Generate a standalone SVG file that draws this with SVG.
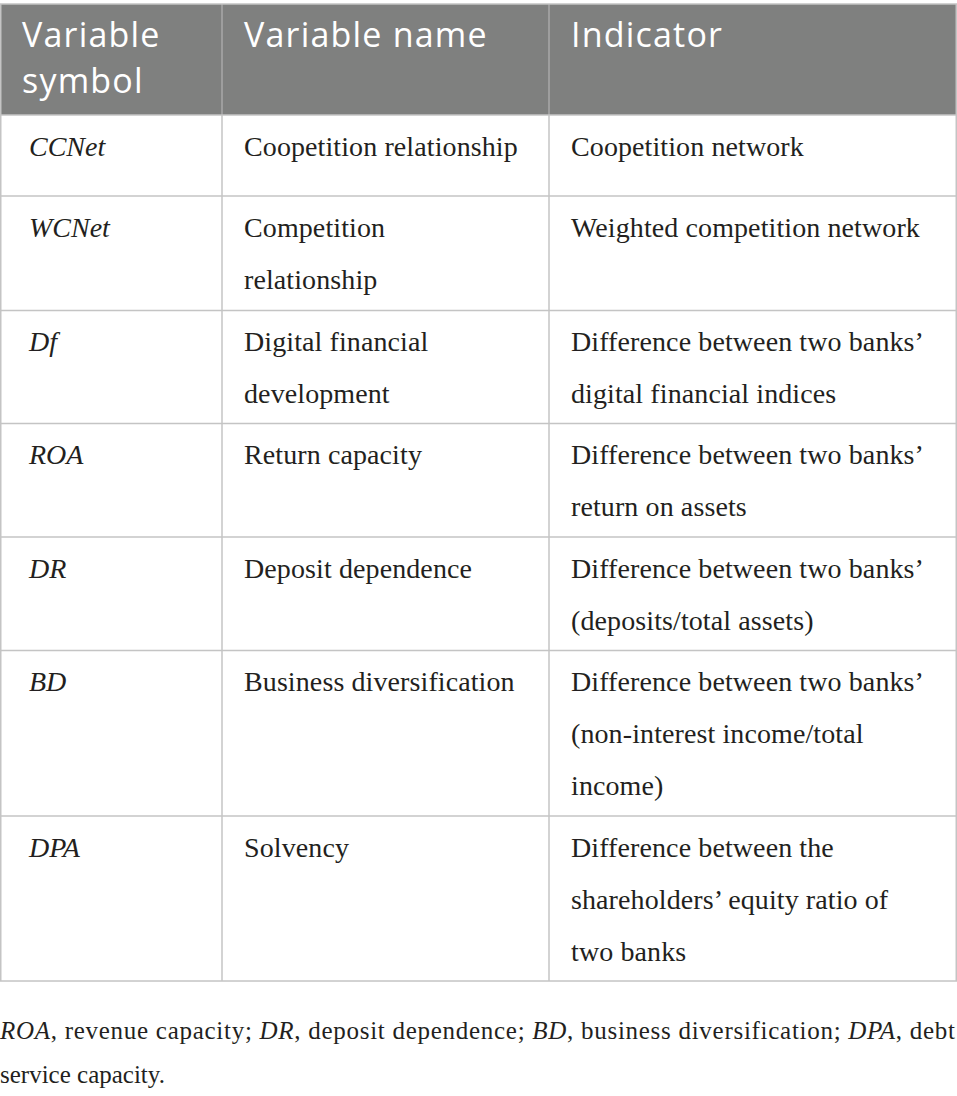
<svg xmlns="http://www.w3.org/2000/svg" width="957" height="1096" viewBox="0 0 957 1096">
<style>
.hd{font-family:"Open Sans","Liberation Sans",sans-serif;font-size:34px;fill:#ffffff;letter-spacing:1.2px}
.b{font-family:"Liberation Serif","Times New Roman",serif;font-size:28px;fill:#231f20;letter-spacing:0.1px}
.s{font-family:"Liberation Serif","Times New Roman",serif;font-size:28px;fill:#231f20;font-style:italic}
.fn{font-family:"Liberation Serif","Times New Roman",serif;font-size:25px;fill:#231f20}
.grid{stroke:#c4c4c4;stroke-width:1.5;fill:none}
.hgrid{stroke:#a9a9a9;stroke-width:1.5}
</style>
<rect x="0" y="0" width="957" height="1096" fill="#ffffff"/>
<g id="header">
<rect x="0.75" y="4" width="955.5" height="111" fill="#7f807f"/>
<line class="hgrid" x1="222" y1="4" x2="222" y2="115"/>
<line class="hgrid" x1="549" y1="4" x2="549" y2="115"/>
<text class="hd" x="22" y="47">Variable</text>
<text class="hd" x="22" y="93">symbol</text>
<text class="hd" x="244" y="47">Variable name</text>
<text class="hd" x="571" y="47">Indicator</text>
</g>
<g id="connectors">
<rect class="grid" x="0.75" y="4" width="955.5" height="977"/>
<line class="grid" x1="222" y1="115" x2="222" y2="981"/>
<line class="grid" x1="549" y1="115" x2="549" y2="981"/>
<line class="grid" x1="0.75" y1="115" x2="956.25" y2="115"/>
<line class="grid" x1="0.75" y1="196" x2="956.25" y2="196"/>
<line class="grid" x1="0.75" y1="310.5" x2="956.25" y2="310.5"/>
<line class="grid" x1="0.75" y1="423.5" x2="956.25" y2="423.5"/>
<line class="grid" x1="0.75" y1="537" x2="956.25" y2="537"/>
<line class="grid" x1="0.75" y1="650.5" x2="956.25" y2="650.5"/>
<line class="grid" x1="0.75" y1="816" x2="956.25" y2="816"/>
</g>
<g id="row-ccnet">
<text class="s" x="29" y="156">CCNet</text>
<text class="b" x="244" y="156">Coopetition relationship</text>
<text class="b" x="571" y="156">Coopetition network</text>
</g>
<g id="row-wcnet">
<text class="s" x="29" y="237">WCNet</text>
<text class="b" x="244" y="237">Competition</text>
<text class="b" x="244" y="289">relationship</text>
<text class="b" x="571" y="237">Weighted competition network</text>
</g>
<g id="row-df">
<text class="s" x="29" y="351">Df</text>
<text class="b" x="244" y="351">Digital financial</text>
<text class="b" x="244" y="403">development</text>
<text class="b" x="571" y="351">Difference between two banks’</text>
<text class="b" x="571" y="403">digital financial indices</text>
</g>
<g id="row-roa">
<text class="s" x="29" y="464">ROA</text>
<text class="b" x="244" y="464">Return capacity</text>
<text class="b" x="571" y="464">Difference between two banks’</text>
<text class="b" x="571" y="516">return on assets</text>
</g>
<g id="row-dr">
<text class="s" x="29" y="578">DR</text>
<text class="b" x="244" y="578">Deposit dependence</text>
<text class="b" x="571" y="578">Difference between two banks’</text>
<text class="b" x="571" y="630">(deposits/total assets)</text>
</g>
<g id="row-bd">
<text class="s" x="29" y="691">BD</text>
<text class="b" x="244" y="691">Business diversification</text>
<text class="b" x="571" y="691">Difference between two banks’</text>
<text class="b" x="571" y="743">(non-interest income/total</text>
<text class="b" x="571" y="795">income)</text>
</g>
<g id="row-dpa">
<text class="s" x="29" y="857">DPA</text>
<text class="b" x="244" y="857">Solvency</text>
<text class="b" x="571" y="857">Difference between the</text>
<text class="b" x="571" y="909">shareholders’ equity ratio of</text>
<text class="b" x="571" y="961">two banks</text>
</g>
<g id="footnote">
<text class="fn" x="0" y="1039" textLength="955" lengthAdjust="spacing"><tspan font-style="italic">ROA</tspan>, revenue capacity; <tspan font-style="italic">DR</tspan>, deposit dependence; <tspan font-style="italic">BD</tspan>, business diversification; <tspan font-style="italic">DPA</tspan>, debt</text>
<text class="fn" x="0" y="1083">service capacity.</text>
</g>
</svg>
